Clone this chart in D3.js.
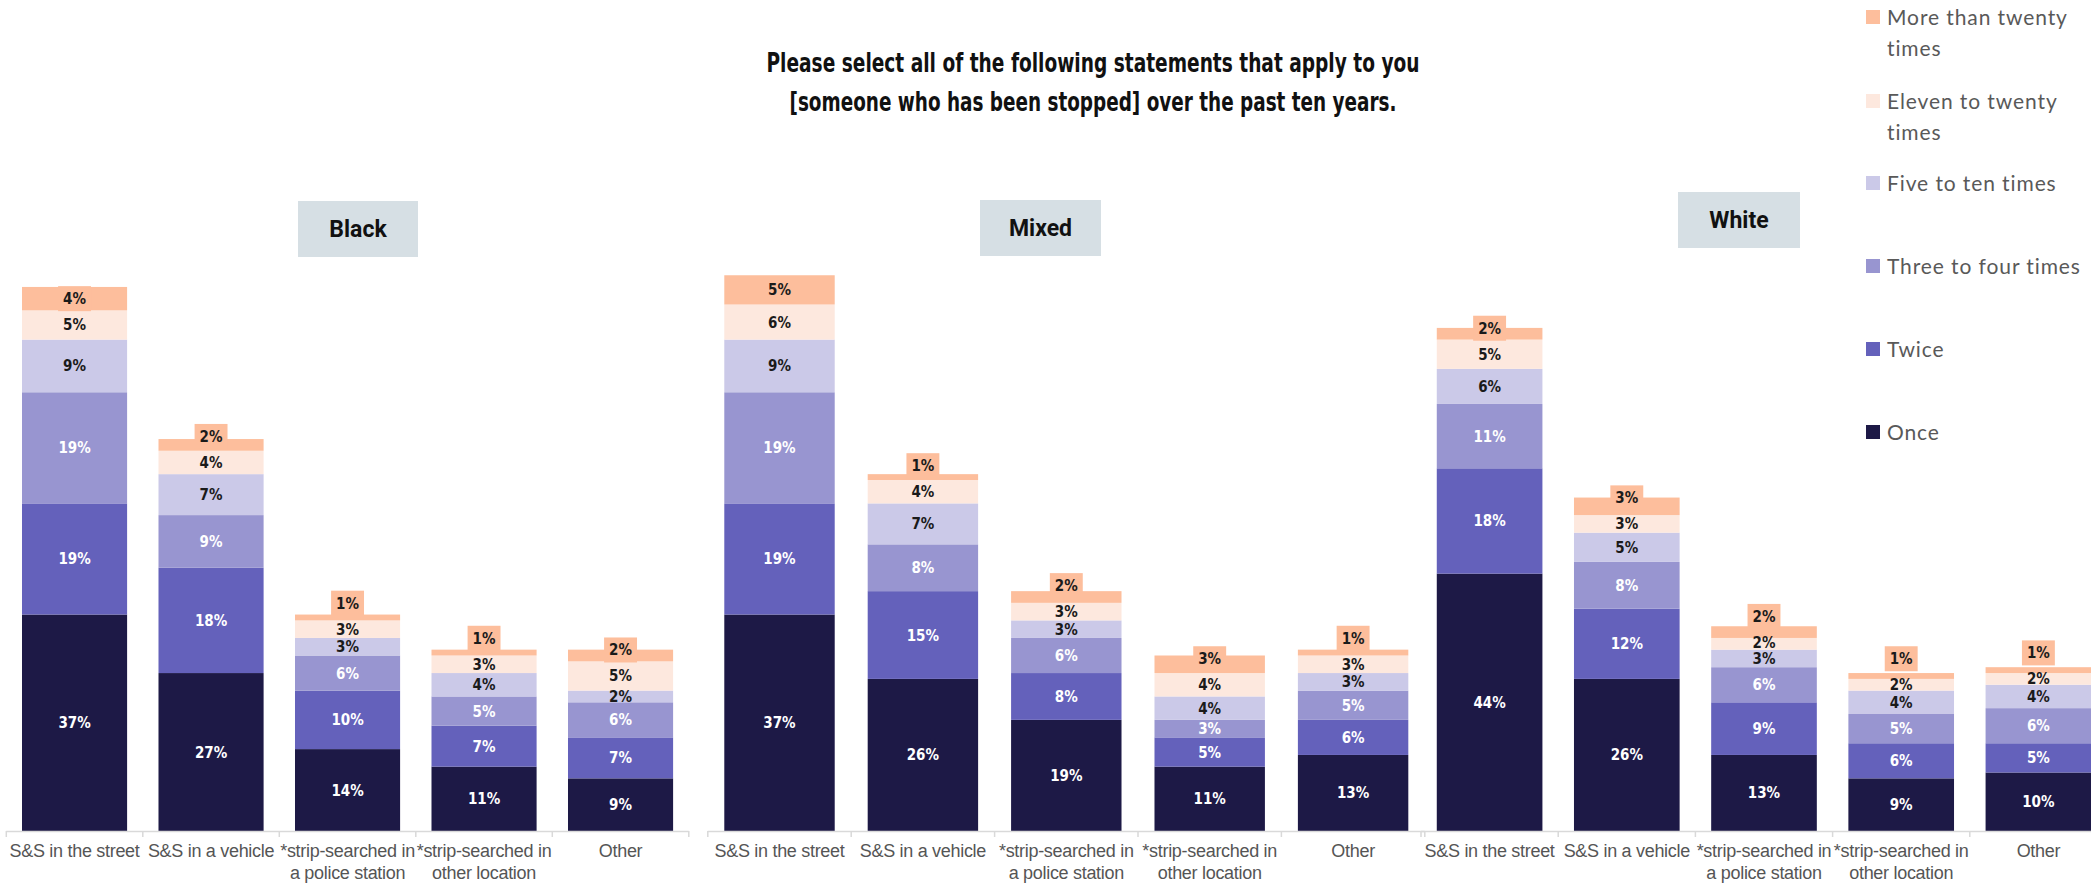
<!DOCTYPE html>
<html><head><meta charset="utf-8">
<script src="https://cdn.jsdelivr.net/npm/d3@7"></script>
<style>
html,body{margin:0;padding:0;background:#fff;overflow:hidden}
</style></head>
<body><svg id="chart" width="2091" height="886"></svg>
<script>
// ---------- data ----------
const series = ["Once","Twice","Three to four times","Five to ten times","Eleven to twenty times","More than twenty times"];
const categories = ["S&S in the street","S&S in a vehicle","*strip-searched in a police station","*strip-searched in other location","Other"];
const categoryLines = [["S&S in the street"],["S&S in a vehicle"],["*strip-searched in","a police station"],["*strip-searched in","other location"],["Other"]];
const groups = ["Black","Mixed","White"];
// values per category, ordered as in `series` (bottom to top)
const blackValues = [[37,19,19,9,5,4],[27,18,9,7,4,2],[14,10,6,3,3,1],[11,7,5,4,3,1],[9,7,6,2,5,2]];
const mixedValues = [[37,19,19,9,6,5],[26,15,8,7,4,1],[19,8,6,3,3,2],[11,5,3,4,4,3],[13,6,5,3,3,1]];
const whiteValues = [[44,18,11,6,5,2],[26,12,8,5,3,3],[13,9,6,3,2,2],[9,6,5,4,2,1],[10,5,6,4,2,1]];
const legendLabels = [["More than twenty","times"],["Eleven to twenty","times"],["Five to ten times"],["Three to four times"],["Twice"],["Once"]];
const colors = ["#1d1946","#6461bb","#9895d0","#cbc9e8","#fde8de","#fdbe9c"];
const titleLines = ["Please select all of the following statements that apply to you","[someone who has been stopped] over the past ten years."];

// ---------- layout ----------
const svg = d3.select("#chart");
const baseY = 831;
const y = d3.scaleLinear().domain([0, 100]).range([baseY, baseY - 585]);
const panels = [
  {name: groups[0], values: blackValues, range: [6.3, 688.8], box: [298, 201, 120, 56]},
  {name: groups[1], values: mixedValues, range: [707.8, 1424.8], box: [980, 200, 121, 56]},
  {name: groups[2], values: whiteValues, range: [1421, 2107], box: [1678, 192, 122, 56]}
];
const condensed = "'Liberation Sans Narrow','DejaVu Sans Condensed','Arial Narrow',sans-serif";
const titleWidths = [653, 607];

// title
svg.append("g").selectAll("text").data(titleLines).join("text")
  .attr("x", 1093).attr("y", (d, i) => 72 + i * 38.6)
  .attr("text-anchor", "middle")
  .attr("textLength", (d, i) => titleWidths[i]).attr("lengthAdjust", "spacingAndGlyphs")
  .style("font-family", condensed).style("font-weight", "bold").style("font-size", "26px")
  .style("fill", "#111").text(d => d);

panels.forEach(p => {
  const g = svg.append("g");
  const x = d3.scaleBand().domain(categories).range(p.range).paddingInner(0.23).paddingOuter(0.115);
  const step = x.step();
  const rows = categories.map((c, ci) => {
    const o = {cat: c};
    series.forEach((s, si) => o[s] = p.values[ci][si]);
    return o;
  });
  const stacked = d3.stack().keys(series)(rows);

  // group label box
  g.append("rect").attr("x", p.box[0]).attr("y", p.box[1]).attr("width", p.box[2]).attr("height", p.box[3])
    .attr("fill", "#d6dfe4");
  g.append("text").attr("x", p.box[0] + p.box[2] / 2).attr("y", p.box[1] + p.box[3] / 2 + 8)
    .attr("text-anchor", "middle").style("font-family", "Roboto, sans-serif").style("font-weight", "bold")
    .style("font-size", "23px").style("fill", "#111").text(p.name);

  // bars
  stacked.forEach((layer, si) => {
    g.append("g").selectAll("rect").data(layer).join("rect")
      .attr("x", d => x(d.data.cat)).attr("width", x.bandwidth())
      .attr("y", d => y(d[1])).attr("height", d => y(d[0]) - y(d[1]))
      .attr("fill", colors[si]);
  });

  // axis
  const ax = g.append("g");
  ax.append("line").attr("x1", p.range[0]).attr("x2", p.range[1]).attr("y1", baseY + 0.5).attr("y2", baseY + 0.5)
    .attr("stroke", "#d9d9d9").attr("stroke-width", 1.5);
  const tickXs = categories.map(c => x(c) - step * 0.115).concat([p.range[1]]);
  ax.selectAll("line.tick").data(tickXs).join("line").attr("class", "tick")
    .attr("x1", d => d).attr("x2", d => d).attr("y1", baseY).attr("y2", baseY + 6)
    .attr("stroke", "#d9d9d9").attr("stroke-width", 1.5);
  categories.forEach((c, ci) => {
    const t = ax.append("text").attr("text-anchor", "middle")
      .style("font-family", "'Liberation Sans', Arial, sans-serif").style("font-size", "18px")
      .style("letter-spacing", "-0.3px").style("fill", "#555");
    categoryLines[ci].forEach((line, li) => {
      t.append("tspan").attr("x", x(c) + x.bandwidth() / 2).attr("y", baseY + 26 + li * 22).text(line);
    });
  });

  // data labels
  categories.forEach((c, ci) => {
    const cx = x(c) + x.bandwidth() / 2;
    let prev = null;
    series.forEach((s, si) => {
      const d = stacked[si][ci];
      const segC = (y(d[0]) + y(d[1])) / 2;
      let cy = segC;
      if (prev !== null) cy = Math.min(segC, prev - (si === 5 ? 26 : 16));
      prev = cy;
      const lbl = p.values[ci][si] + "%";
      const tg = g.append("g");
      const tx = tg.append("text").attr("x", cx).attr("y", cy + 5.5)
        .attr("text-anchor", "middle")
        .style("font-family", condensed).style("font-weight", "bold").style("font-size", "15px")
        .style("fill", si < 3 ? "#ffffff" : "#1a1a1a").text(lbl);
      if (si === 5) {
        const w = tx.node().getComputedTextLength() + 10;
        tg.insert("rect", "text").attr("x", cx - w / 2).attr("y", cy - 12.5).attr("width", w).attr("height", 25)
          .attr("fill", colors[5]);
      }
    });
  });
});

// legend
const lg = svg.append("g");
const legendYs = [17, 101, 183, 266, 349, 432];
legendLabels.forEach((lines, i) => {
  const cy = legendYs[i];
  lg.append("rect").attr("x", 1866).attr("y", cy - 7).attr("width", 14).attr("height", 14)
    .attr("fill", colors[5 - i]);
  const t = lg.append("text").style("font-family", "Lato, sans-serif").style("font-size", "21px")
    .style("letter-spacing", "0.9px").style("fill", "#595959");
  lines.forEach((l, li) => t.append("tspan").attr("x", 1887).attr("y", cy + 8 + li * 30.5).text(l));
});
</script>
</body></html>
